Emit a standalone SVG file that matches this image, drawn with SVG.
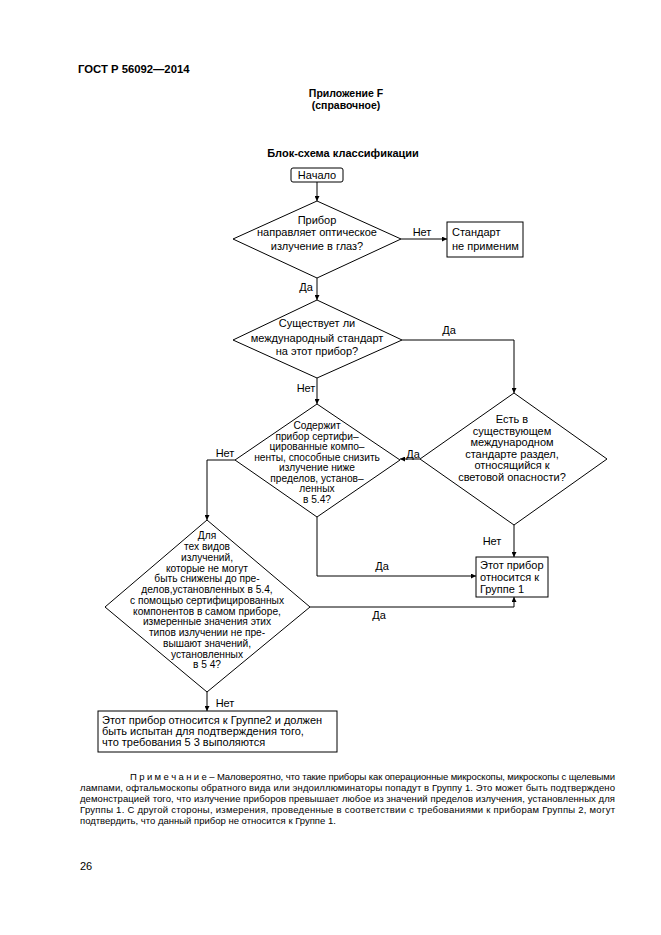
<svg xmlns="http://www.w3.org/2000/svg" width="661" height="935" viewBox="0 0 661 935">
<defs>
<marker id="arr" viewBox="0 0 8 8" refX="8" refY="4" markerWidth="5" markerHeight="5" orient="auto" markerUnits="userSpaceOnUse">
<path d="M0,0 L8,4 L0,8 z" fill="#000"/>
</marker>
<style>
text{font-family:"Liberation Sans",Arial,sans-serif;fill:#000}
.h{font-weight:bold}
.t{font-size:11px}
.s{font-size:10.2px}
.c{text-anchor:middle}
.n{font-size:9.5px}
.shape{fill:#fff;stroke:#000;stroke-width:1}
.con{fill:none;stroke:#000;stroke-width:1;marker-end:url(#arr)}
</style>
</defs>
<rect width="661" height="935" fill="#fff"/>
<text class="h" x="78" y="73" font-size="11.3">ГОСТ Р 56092—2014</text>
<text class="h c" x="346" y="97" font-size="10.5">Приложение F</text>
<text class="h c" x="346" y="109" font-size="10.5">(справочное)</text>
<text class="h c" x="343" y="157" font-size="11">Блок-схема классификации</text>

<g id="connectors">
<path class="con" d="M317,182 V201"/>
<path class="con" d="M401,239 H447"/>
<path class="con" d="M317,278 V300"/>
<path class="con" d="M402,340 H514 V393"/>
<path class="con" d="M317,378 V404"/>
<path class="con" d="M420,459 H400"/>
<path class="con" d="M235,460 H207 V520"/>
<path class="con" d="M514,525 V557"/>
<path class="con" d="M317,517 V576 H476"/>
<path class="con" d="M310,607 H514 V597"/>
<path class="con" d="M207,692 V711"/>
<text class="t c" x="422" y="236">Нет</text>
<text class="t c" x="306" y="291">Да</text>
<text class="t c" x="449" y="334">Да</text>
<text class="t c" x="306" y="392">Нет</text>
<text class="t c" x="225" y="457">Нет</text>
<text class="t c" x="413" y="458">Да</text>
<text class="t c" x="492" y="545">Нет</text>
<text class="t c" x="382" y="570">Да</text>
<text class="t c" x="379" y="619">Да</text>
<text class="t c" x="225" y="707">Нет</text>
</g>

<g id="start">
<rect class="shape" x="291" y="168" width="52" height="14" rx="2"/>
<text class="t c" x="317" y="179" font-size="12">Начало</text>
</g>

<g id="d1">
<polygon class="shape" points="317,201 401,239 317,278 233,239"/>
<text class="t c" x="317" y="224">Прибор</text>
<text class="t c" x="317" y="236">направляет оптическое</text>
<text class="t c" x="317" y="250">излучение в глаз?</text>
</g>

<g id="notapplicable">
<rect class="shape" x="447" y="222" width="76" height="35"/>
<text class="t" x="452" y="236">Стандарт</text>
<text class="t" x="452" y="250">не применим</text>
</g>

<g id="d2">
<polygon class="shape" points="317,300 402,340 317,378 233,340"/>
<text class="t c" x="317" y="327">Существует ли</text>
<text class="t c" x="317" y="342">международный стандарт</text>
<text class="t c" x="317" y="355">на этот прибор?</text>
</g>

<g id="d3">
<polygon class="shape" points="317,404 400,460 317,517 235,460"/>
<text class="s c" x="317" y="429">Содержит</text>
<text class="s c" x="317" y="439.5">прибор сертифи–</text>
<text class="s c" x="317" y="450">цированные компо–</text>
<text class="s c" x="317" y="460.5">ненты, способные снизить</text>
<text class="s c" x="317" y="471">излучение ниже</text>
<text class="s c" x="317" y="481.5">пределов, установ–</text>
<text class="s c" x="317" y="492">ленных</text>
<text class="s c" x="317" y="502.5">в 5.4?</text>
</g>

<g id="d4">
<polygon class="shape" points="514,393 607,459 514,525 420,459"/>
<text class="t c" x="512" y="423">Есть в</text>
<text class="t c" x="512" y="435">существующем</text>
<text class="t c" x="512" y="446">международном</text>
<text class="t c" x="512" y="458">стандарте раздел,</text>
<text class="t c" x="512" y="469">относящийся к</text>
<text class="t c" x="512" y="481">световой опасности?</text>
</g>

<g id="d5">
<polygon class="shape" points="207,520 310,607 207,692 105,607"/>
<text class="s c" x="207" y="539">Для</text>
<text class="s c" x="207" y="550">тех видов</text>
<text class="s c" x="207" y="560.5">излучений,</text>
<text class="s c" x="207" y="571.5">которые не могут</text>
<text class="s c" x="207" y="582">быть снижены до пре-</text>
<text class="s c" x="207" y="593">делов,установленных в 5.4,</text>
<text class="s c" x="207" y="604">с помощью сертифицированных</text>
<text class="s c" x="207" y="614.5">компонентов в самом приборе,</text>
<text class="s c" x="207" y="625">измеренные значения этих</text>
<text class="s c" x="207" y="636">типов излучении не пре-</text>
<text class="s c" x="207" y="646.5">вышают значений,</text>
<text class="s c" x="207" y="657.5">установленных</text>
<text class="s c" x="207" y="668">в 5 4?</text>
</g>

<g id="group1">
<rect class="shape" x="476" y="557" width="72" height="40"/>
<text class="t" x="480" y="569">Этот прибор</text>
<text class="t" x="480" y="581">относится к</text>
<text class="t" x="480" y="593">Группе 1</text>
</g>

<g id="group2">
<rect class="shape" x="98" y="711" width="239" height="41"/>
<text class="t" x="102" y="724">Этот прибор относится к Группе2 и должен</text>
<text class="t" x="102" y="735">быть испытан для подтверждения того,</text>
<text class="t" x="102" y="746">что требования  5 3 выполяются</text>
</g>

<text class="n" x="130" y="780" textLength="485" lengthAdjust="spacing">П р и м е ч а н и е – Маловероятно, что такие приборы как операционные микроскопы, микроскопы с щелевыми</text>
<text class="n" x="80" y="791" textLength="535" lengthAdjust="spacing">лампами, офтальмоскопы обратного вида или эндоиллюминаторы попадут в Группу 1. Это может быть подтверждено</text>
<text class="n" x="80" y="802" textLength="535" lengthAdjust="spacing">демонстрацией того, что излучение приборов превышает любое из значений пределов излучения, установленных для</text>
<text class="n" x="80" y="813" textLength="535" lengthAdjust="spacing">Группы 1. С другой стороны, измерения, проведенные в соответствии с требованиями к приборам Группы 2, могут</text>
<text class="n" x="80" y="824">подтвердить, что данный прибор не относится к Группе 1.</text>
<text x="80" y="870" font-size="11">26</text>
</svg>
